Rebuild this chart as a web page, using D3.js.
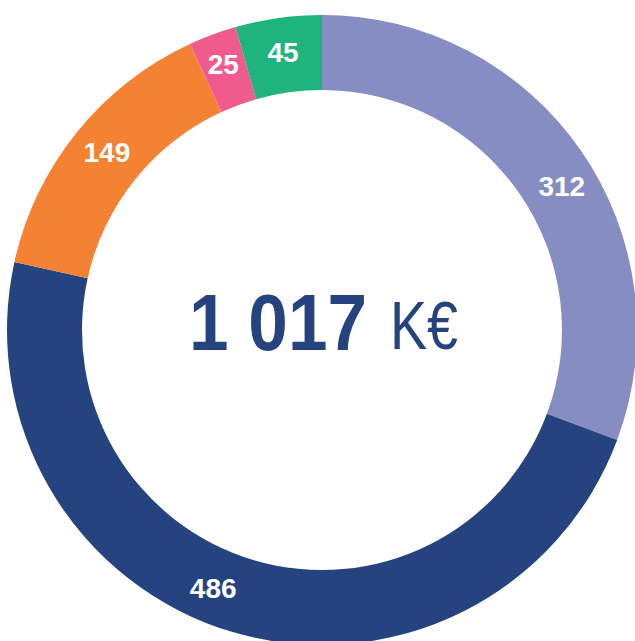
<!DOCTYPE html>
<html><head><meta charset="utf-8">
<script src="https://cdn.jsdelivr.net/npm/d3@7"></script>
<style>html,body{margin:0;padding:0;background:#fff;}svg{display:block;}</style>
</head><body>
<svg id="chart" width="635" height="641"></svg>
<script>
const categories = ["A", "B", "C", "D", "E"];
const values = [312, 486, 149, 25, 45];
const colors = ["#868dc2", "#25447f", "#f58233", "#ef5b8c", "#1fb37e"];
const totalLabel = "1 017";
const unitLabel = "K€";
// label placement tweaks (layout only): angle offset in degrees, radius
const labelAngleNudge = [3.7, 6.4, 0.7, 0, 0];
const labelRadius = [280, 280, 279, 284, 281];

const svg = d3.select("#chart");
const cx = 322, cy = 330, outerR = 315, innerR = 240;
const g = svg.append("g").attr("transform", `translate(${cx},${cy})`);

const pie = d3.pie().value(d => d.v).sort(null);
const data = pie(categories.map((c, i) => ({c, v: values[i], col: colors[i], i})));
const arc = d3.arc().innerRadius(innerR).outerRadius(outerR);

g.selectAll("path").data(data).join("path")
  .attr("d", arc).attr("fill", d => d.data.col);

function labelPos(d) {
  const a = (d.startAngle + d.endAngle) / 2 + labelAngleNudge[d.data.i] * Math.PI / 180;
  const r = labelRadius[d.data.i];
  return [r * Math.sin(a), -r * Math.cos(a)];
}

g.selectAll("text.lbl").data(data).join("text")
  .attr("class", "lbl")
  .attr("transform", d => `translate(${labelPos(d)})`)
  .attr("text-anchor", "middle").attr("dy", "0.36em")
  .attr("font-family", "Liberation Sans, Arial, sans-serif")
  .attr("font-weight", "bold").attr("font-size", 28).attr("fill", "#fff")
  .text(d => d.data.v);

svg.append("text")
  .attr("x", 189).attr("y", 350)
  .attr("font-family", "Liberation Sans, Arial, sans-serif")
  .attr("font-weight", "bold").attr("font-size", 80).attr("fill", "#25447f")
  .attr("textLength", 178).attr("lengthAdjust", "spacingAndGlyphs")
  .text(totalLabel);
svg.append("text")
  .attr("x", 390).attr("y", 349)
  .attr("font-family", "Liberation Sans, Arial, sans-serif")
  .attr("font-size", 68).attr("fill", "#25447f")
  .attr("textLength", 68).attr("lengthAdjust", "spacingAndGlyphs")
  .text(unitLabel);
</script>
</body></html>
